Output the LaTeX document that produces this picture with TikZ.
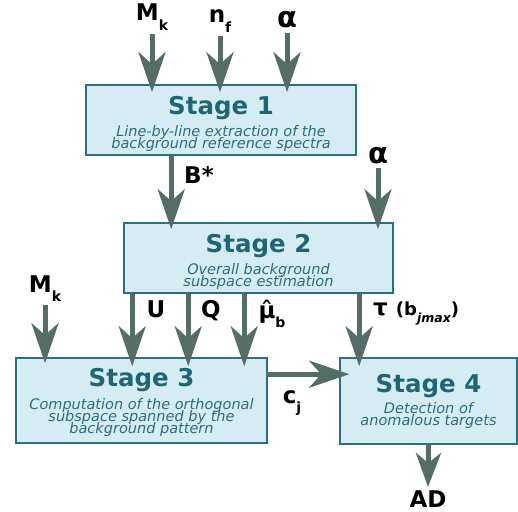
\documentclass[tikz,border=0pt]{standalone}
\usepackage{fontspec}
\setmainfont{DejaVu Sans}
\usetikzlibrary{arrows.meta,positioning,calc}
\definecolor{boxfill}{HTML}{D6ECF3}
\definecolor{boxline}{HTML}{2B6F80}
\definecolor{titlecol}{HTML}{1F6675}
\definecolor{desccol}{HTML}{2B6E7C}
\definecolor{flowcol}{HTML}{546E67}
\newcommand\lowsub[2][14]{\raisebox{-0.4em}{\fontsize{#1}{#1}\selectfont #2}}
\newcommand\tightlines{\lineskiplimit=-50pt\relax}
\tikzset{stage/.style={draw=boxline,fill=boxfill,line width=1.6pt,inner sep=0pt},
         ttl/.style={font=\fontsize{24.5}{26}\selectfont\bfseries,text=titlecol,inner sep=0pt,anchor=base},
         desc/.style={font=\fontsize{14.5}{11.8}\selectfont\itshape\tightlines,
                      text=desccol,align=center,inner sep=0pt,anchor=north},
         lbl/.style={font=\fontsize{23}{23}\selectfont\bfseries,inner sep=4pt,anchor=base},
         flow/.style={draw=flowcol,line width=5pt,-{Stealth[length=40pt,width=27pt,inset=12pt]}}
}
\begin{document}
\begin{tikzpicture}[x=1pt,y=-1pt]
  \useasboundingbox (0,0) rectangle (518,511);
  % the four stages
  \node[stage,minimum width=270pt,minimum height=70pt] (s1) at (221,120) {};
  \node[stage,minimum width=269pt,minimum height=70pt] (s2) at (258.5,258) {};
  \node[stage,minimum width=251pt,minimum height=85pt] (s3) at (141.5,400.5) {};
  \node[stage,minimum width=177pt,minimum height=86pt] (s4) at (428.5,401) {};
  \node[ttl] (s1t) at ([yshift=-30pt]s1.north) {Stage 1};
  \node[desc] (s1d) at ([yshift=-11pt]s1t.base) {Line-by-line extraction of the\\background reference spectra};
  \node[ttl] (s2t) at ([yshift=-30pt]s2.north) {Stage 2};
  \node[desc] (s2d) at ([yshift=-11pt]s2t.base) {Overall background\\subspace estimation};
  \node[ttl] (s3t) at ([yshift=-29pt]s3.north) {Stage 3};
  \node[desc] (s3d) at ([yshift=-12pt]s3t.base) {Computation of the orthogonal\\subspace spanned by the\\background pattern};
  \node[ttl] (s4t) at ([yshift=-35pt]s4.north) {Stage 4};
  \node[desc] (s4d) at ([yshift=-10pt]s4t.base) {Detection of\\anomalous targets};
  % inputs and outputs
  \node[lbl] (mk1) at (152,21) {M\lowsub{k}};
  \node[lbl] (nf) at (220,23) {n\lowsub{f}};
  \node[lbl,font=\fontsize{29}{29}\selectfont\bfseries] (a1) at (287,28) {α};
  \node[lbl,font=\fontsize{29}{29}\selectfont\bfseries] (a2) at (378,163) {α};
  \node[lbl] (bs) at (199,183) {B*};
  \node[lbl] (mk2) at (45,292) {M\lowsub{k}};
  \node[lbl] (u) at (156,317) {U};
  \node[lbl] (q) at (211,317) {Q};
  \node[lbl] (mu) at (272,318) {μ̂\lowsub{b}};
  \node[lbl,anchor=base west] (tau) at (369,315) {τ {\fontsize{18}{18}\selectfont(b\lowsub[12.5]{\itshape jmax})}};
  \node[lbl] (cj) at (292,403) {c\lowsub{j}};
  \node[lbl,inner sep=2pt] (ad) at (428,507) {AD};
  % connectors
  \draw[flow] (mk1.south) -- ($(mk1.south |- s1.north)+(0,8)$);
  \draw[flow] (nf.south) -- ($(nf.south |- s1.north)+(0,8)$);
  \draw[flow] (a1.south) -- ($(a1.south |- s1.north)+(0,8)$);
  \draw[flow] ([xshift=86pt]s1.south west) -- ([xshift=48pt,yshift=-7pt]s2.north west);
  \draw[flow] (a2.south) -- ($(a2.south |- s2.north)+(0,7)$);
  \draw[flow] ([xshift=9pt]s2.south west) -- ([xshift=117pt,yshift=-9pt]s3.north west);
  \draw[flow] ([xshift=65pt]s2.south west) -- ([xshift=173pt,yshift=-9pt]s3.north west);
  \draw[flow] ([xshift=121pt]s2.south west) -- ([xshift=229pt,yshift=-9pt]s3.north west);
  \draw[flow] ([xshift=236pt]s2.south west) -- ([xshift=20pt,yshift=-9pt]s4.north west);
  \draw[flow] (mk2.south) -- ($(mk2.south |- s3.north)+(0,6)$);
  \draw[flow] ([xshift=-2pt,yshift=-17pt]s3.north east) -- ([xshift=10pt,yshift=-17pt]s4.north west);
  \draw[flow,-{Stealth[length=34pt,width=25pt,inset=10pt]}] (s4.south) -- ([yshift=1pt]ad.north);
\end{tikzpicture}
\end{document}
